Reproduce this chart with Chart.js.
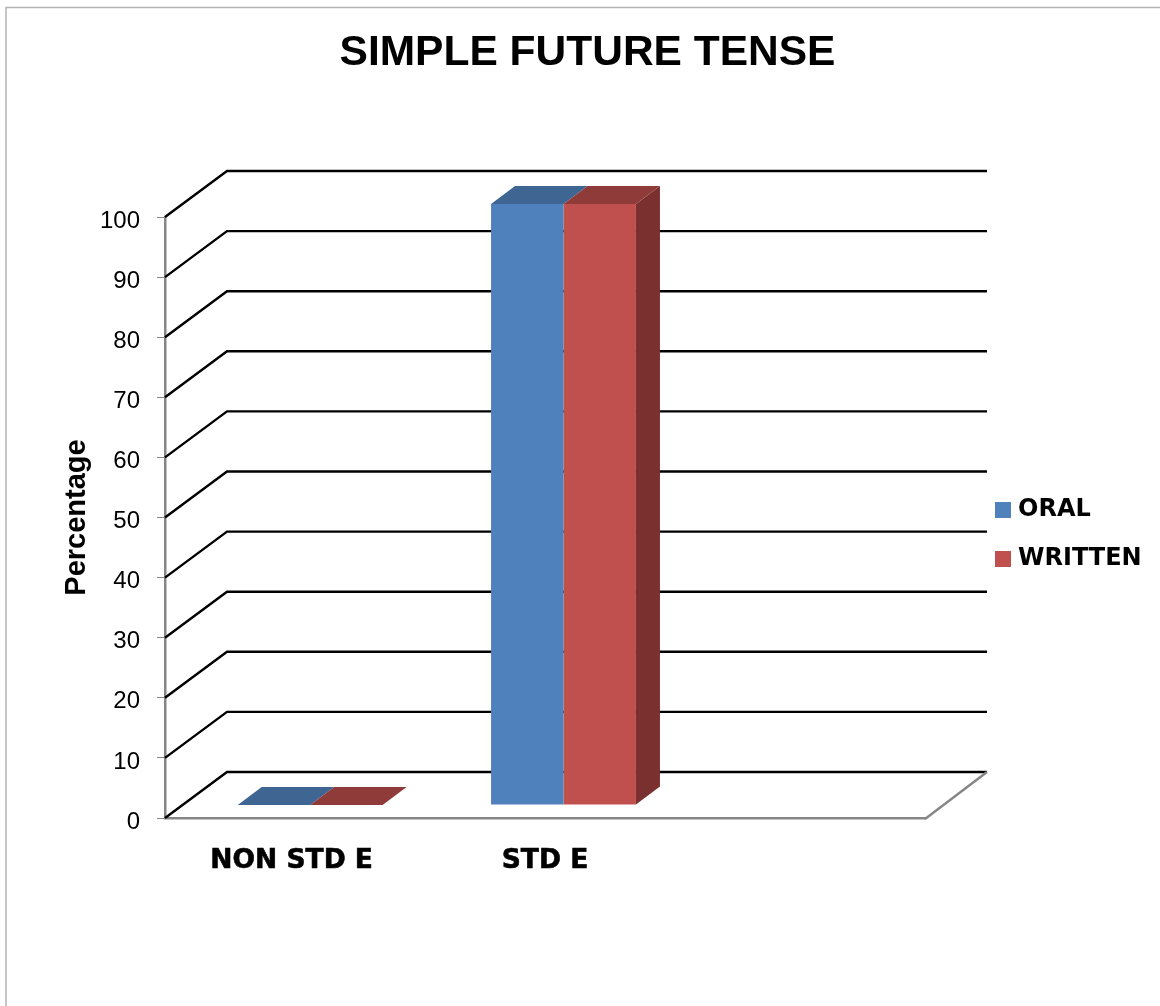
<!DOCTYPE html>
<html>
<head>
<meta charset="utf-8">
<style>html,body{margin:0;padding:0;background:#fff}canvas{display:block}</style>
<script src="https://cdn.jsdelivr.net/npm/chart.js@4/dist/chart.umd.min.js"></script>
</head>
<body>
<canvas id="c" width="1160" height="1006"></canvas>
<script>
const categories = ['NON STD E', 'STD E', ''];
const oral = [0, 100, null];
const written = [0, 100, null];
const seriesNames = ['ORAL', 'WRITTEN'];
const frontColors = ['#4f81bd', '#c0504d'];
const topColors = ['#3f6592', '#8f3b3a'];
const sideColor = '#79302e';

const WALL = {dx: 62, dy: -46};
const BAR_SHIFT = {dx: 18.5, dy: -13};
const BAR_DEPTH = {dx: 24, dy: -18};
const AXIS_GRAY = '#868686';

function poly(ctx, pts, fill) {
  ctx.beginPath();
  pts.forEach((p, i) => i ? ctx.lineTo(p[0], p[1]) : ctx.moveTo(p[0], p[1]));
  ctx.closePath();
  ctx.fillStyle = fill;
  ctx.fill();
}

const threeD = {
  id: 'threeD',
  afterLayout(chart) {
    const lg = chart.legend;
    lg.left = 975; lg.right = 1160; lg.top = 473; lg.bottom = 600;
    const t = chart.titleBlock;
    t.left = 15; t.right = 1160;
    // the tick labels sit slightly below their tick marks
    chart.scales.y.getLabelItems(chart.chartArea).forEach(item => { item.options.translation[1] += 4; });
  },
  beforeDraw(chart) {
    const ctx = chart.ctx;
    ctx.save();
    ctx.fillStyle = '#fff';
    ctx.fillRect(0, 0, chart.width, chart.height);
    ctx.strokeStyle = '#b4b4b4';
    ctx.lineWidth = 1.5;
    ctx.beginPath();
    ctx.moveTo(6, 1006); ctx.lineTo(6, 7.5); ctx.lineTo(1160, 7.5);
    ctx.stroke();
    ctx.restore();
  },
  beforeDatasetsDraw(chart) {
    const ctx = chart.ctx, a = chart.chartArea, y = chart.scales.y;
    ctx.save();
    // back wall and side wall grid lines
    ctx.strokeStyle = '#000';
    ctx.lineWidth = 2.4;
    y.ticks.forEach(t => {
      const py = y.getPixelForValue(t.value);
      ctx.beginPath();
      ctx.moveTo(a.left, py);
      ctx.lineTo(a.left + WALL.dx, py + WALL.dy);
      ctx.lineTo(a.right + WALL.dx, py + WALL.dy);
      ctx.stroke();
    });
    // floor right edge
    const by = y.getPixelForValue(0);
    ctx.strokeStyle = AXIS_GRAY;
    ctx.beginPath();
    ctx.moveTo(a.right, by + 1);
    ctx.lineTo(a.right + WALL.dx, by + WALL.dy);
    ctx.stroke();
    // bar top and side faces
    const last = chart.data.datasets.length - 1;
    chart.data.datasets.forEach((ds, i) => {
      chart.getDatasetMeta(i).data.forEach((el, j) => {
        if (ds.data[j] === null) return;
        const p = el.getProps(['x', 'y', 'base', 'width'], true);
        const l = p.x - p.width / 2 + BAR_SHIFT.dx, r = p.x + p.width / 2 + BAR_SHIFT.dx;
        const t = p.y + BAR_SHIFT.dy, b = p.base + BAR_SHIFT.dy;
        if (i === last && b - t > 0) {
          poly(ctx, [[r, t], [r + BAR_DEPTH.dx, t + BAR_DEPTH.dy], [r + BAR_DEPTH.dx, b + BAR_DEPTH.dy], [r, b]], sideColor);
        }
        poly(ctx, [[l, t], [l + BAR_DEPTH.dx, t + BAR_DEPTH.dy], [r + BAR_DEPTH.dx, t + BAR_DEPTH.dy], [r, t]], topColors[i]);
      });
    });
    ctx.restore();
  },
  beforeDatasetDraw(chart) {
    chart.ctx.save();
    chart.ctx.translate(BAR_SHIFT.dx, BAR_SHIFT.dy);
  },
  afterDatasetDraw(chart) {
    chart.ctx.restore();
  }
};

new Chart(document.getElementById('c'), {
  type: 'bar',
  plugins: [threeD],
  data: {
    labels: categories,
    datasets: [
      {label: seriesNames[0], data: oral, backgroundColor: frontColors[0]},
      {label: seriesNames[1], data: written, backgroundColor: frontColors[1]}
    ]
  },
  options: {
    responsive: false,
    animation: false,
    devicePixelRatio: 1,
    layout: {padding: {left: 60, right: 235, top: 0, bottom: 0}},
    datasets: {bar: {categoryPercentage: 0.572, barPercentage: 1, clip: false}},
    plugins: {
      tooltip: {enabled: false},
      title: {
        display: true,
        text: 'SIMPLE FUTURE TENSE',
        color: '#000',
        font: {family: '"Liberation Sans"', size: 42.5, weight: 'bold'},
        padding: {top: 28, bottom: 138}
      },
      legend: {
        position: 'chartArea',
        align: 'start',
        labels: {
          color: '#000',
          font: {family: '"DejaVu Sans"', size: 24, weight: 'bold'},
          boxWidth: 6,
          boxHeight: 6,
          padding: 25,
          generateLabels(chart) {
            return chart.data.datasets.map((d, i) => ({
              text: d.label, fillStyle: frontColors[i], strokeStyle: frontColors[i],
              lineWidth: 10, datasetIndex: i, hidden: false
            }));
          }
        }
      }
    },
    scales: {
      x: {
        afterFit(s) { s.height = 188; },
        grid: {drawOnChartArea: false, drawTicks: false, offset: true},
        border: {color: AXIS_GRAY, width: 2.5},
        ticks: {
          color: '#000', autoSkip: false, maxRotation: 0, minRotation: 0, padding: 27,
          textStrokeColor: '#000', textStrokeWidth: 0.6,
          font: {family: '"DejaVu Sans"', size: 26.5, weight: 'bold'}
        }
      },
      y: {
        min: 0, max: 100,
        afterFit(s) { s.width = 105; },
        grid: {drawOnChartArea: false, color: AXIS_GRAY, tickLength: 8, tickWidth: 1},
        border: {color: AXIS_GRAY, width: 2.5},
        title: {
          display: true, text: 'Percentage', color: '#000', padding: 0,
          font: {family: '"Liberation Sans"', size: 29, weight: 'bold'}
        },
        ticks: {
          color: '#000', stepSize: 10, padding: 17,
          font: {family: '"Liberation Sans"', size: 24}
        }
      }
    }
  }
});
</script>
</body>
</html>
